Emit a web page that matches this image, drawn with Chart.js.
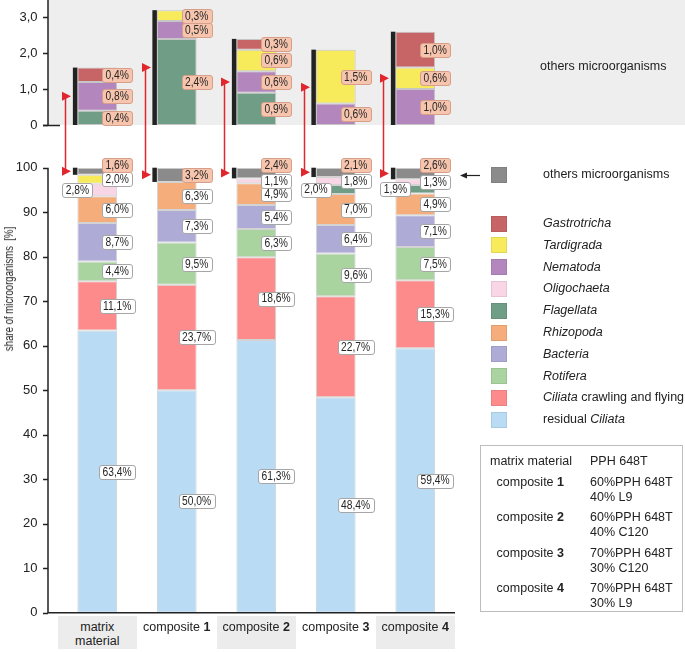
<!DOCTYPE html>
<html>
<head>
<meta charset="utf-8">
<script src="https://cdn.jsdelivr.net/npm/chart.js@4.4.1/dist/chart.umd.min.js"></script>
<style>
  body { margin: 0; background: #fff; font-family: 'Liberation Sans', Arial, sans-serif; color: #222; }
  #wrap { position: relative; width: 685px; height: 652px; overflow: hidden; }
  canvas { position: absolute; left: 0; top: 0; }
  .t { position: absolute; font-size: 12.5px; line-height: 15px; white-space: nowrap; }
  .cat { position: absolute; height: 33px; box-sizing: border-box; padding-top: 4px; text-align: center; font-size: 12.5px; line-height: 14px; }
  .cat.shade { background: #ececec; }
  .sq { position: absolute; width: 16px; height: 16px; box-sizing: border-box; border: 1px solid rgba(0,0,0,0.08); }
  #ytitle { position: absolute; left: 9px; top: 289px; font-size: 12px; white-space: nowrap;
            transform: translate(-50%, -50%) rotate(-90deg) scaleX(0.8); }
  #table { position: absolute; left: 480px; top: 445px; width: 203px; height: 167px; box-sizing: border-box; border: 1px solid #bdbdbd; }
</style>
</head>
<body>
<div id="wrap">
  <canvas id="lowerChart" width="685" height="652"></canvas>
  <canvas id="upperChart" width="685" height="652"></canvas>
  <div id="overlay"></div>
</div>
<script>
'use strict';

const categories = ['matrix material', 'composite 1', 'composite 2', 'composite 3', 'composite 4'];

// lower part: share of microorganisms [%], bottom to top
const residualCiliata = [63.4, 50.0, 61.3, 48.4, 59.4];
const ciliataCrawling = [11.1, 23.7, 18.6, 22.7, 15.3];
const rotifera = [4.4, 9.5, 6.3, 9.6, 7.5];
const bacteria = [8.7, 7.3, 5.4, 6.4, 7.1];
const rhizopoda = [6.0, 6.3, 4.9, 7.0, 4.9];
const flagellataMain = [0, 0, 0, 2.0, 1.9];
const oligochaeta = [2.8, 0, 1.1, 1.8, 1.3];
const tardigradaMain = [2.0, 0, 0, 0, 0];
const others = [1.6, 3.2, 2.4, 2.1, 2.6];

// upper part: what the "others" consist of
const flagellataOthers = [0.4, 2.4, 0.9, 0, 0];
const nematodaOthers = [0.8, 0.5, 0.6, 0.6, 1.0];
const tardigradaOthers = [0, 0.3, 0.6, 1.5, 0.6];
const gastrotrichaOthers = [0.4, 0, 0.3, 0, 1.0];

const lowerTicks = [0, 10, 20, 30, 40, 50, 60, 70, 80, 90, 100];
const upperTicks = [0, 1, 2, 3];
const upperTickLabels = ['0', '1,0', '2,0', '3,0'];

const materials = [
  ['PPH 648T'],
  ['60%PPH 648T', '40% L9'],
  ['60%PPH 648T', '40% C120'],
  ['70%PPH 648T', '30% C120'],
  ['70%PPH 648T', '30% L9']
];

const colors = {
  residual: '#b9dcf4',
  crawling: '#fe8b8b',
  rotifera: '#a9d4a0',
  bacteria: '#aeabd7',
  rhizopoda: '#f5ad7b',
  flagellata: '#6f9d86',
  oligochaeta: '#f9d6e5',
  nematoda: '#b387be',
  tardigrada: '#f8eb5b',
  gastrotricha: '#c76566',
  others: '#8b8b8b'
};

const FONT = "'Liberation Sans', Arial, sans-serif";
const axisGap = 9.5;   // y axis line sits left of the first category band
const stripW = 4.5;    // black marker left of the "others" bars

function bar(label, data, color) {
  return {
    label: label,
    data: data.map(v => v || null),
    backgroundColor: color,
    borderColor: 'rgba(80,80,80,0.25)',
    borderWidth: 1,
    borderSkipped: false,
    barPercentage: 0.5,
    categoryPercentage: 1
  };
}

function fmt(v) {
  return v.toFixed(1).replace('.', ',') + '%';
}

function fitAxis(s) {
  s.width = 57.5;
  s.paddingTop = 0;
  s.paddingBottom = 0;
}

function drawLabel(ctx, text, cx, cy, pink) {
  ctx.save();
  ctx.font = '12.5px ' + FONT;
  const tw = ctx.measureText(text).width * 0.82;
  const w = Math.round(tw + 7), h = 14;
  const x = Math.round(cx - w / 2) + 0.5, y = Math.round(cy - h / 2) + 0.5;
  ctx.beginPath();
  ctx.roundRect(x, y, w, h, 2.5);
  ctx.fillStyle = pink ? '#f7c5ae' : '#ffffff';
  ctx.fill();
  ctx.lineWidth = 1;
  ctx.strokeStyle = pink ? '#d59f8a' : '#a6a6a6';
  ctx.stroke();
  ctx.translate(cx, cy + 0.5);
  ctx.scale(0.82, 1);
  ctx.fillStyle = '#262626';
  ctx.textAlign = 'center';
  ctx.textBaseline = 'middle';
  ctx.fillText(text, 0, 0);
  ctx.restore();
}

function drawYAxis(chart, yFrom, yTo) {
  const ctx = chart.ctx;
  const ax = chart.chartArea.left - axisGap;
  const ys = chart.scales.y;
  ctx.save();
  ctx.strokeStyle = '#222';
  ctx.lineWidth = 1.5;
  ctx.beginPath();
  ctx.moveTo(ax, yFrom);
  ctx.lineTo(ax, yTo);
  ys.ticks.forEach(t => {
    const py = Math.round(ys.getPixelForValue(t.value)) + 0.5;
    ctx.moveTo(ax - 5, py);
    ctx.lineTo(ax, py);
  });
  ctx.stroke();
  ctx.restore();
  return ax;
}

// ---------- lower chart ----------
const lowerPlugin = {
  id: 'lowerDeco',
  afterDatasetsDraw(chart) {
    const ctx = chart.ctx;
    const sets = chart.data.datasets;
    const last = sets.length - 1;
    // black marker left of the "others" segment
    chart.getDatasetMeta(last).data.forEach(el => {
      ctx.fillStyle = '#222';
      ctx.fillRect(el.x - el.width / 2 - stripW, el.y, stripW, el.base - el.y);
    });
    chart.data.labels.forEach((_, i) => {
      sets.forEach((ds, d) => {
        const v = ds.data[i];
        if (!v) return;
        const el = chart.getDatasetMeta(d).data[i];
        const isOthers = d === last;
        let cx = el.x + el.width / 2;
        let cy = (el.y + el.base) / 2;
        if (isOthers && el.base - el.y < 12) cy = el.y - 3;
        if (!isOthers && v < 3) {
          for (let k = d + 1; k < last; k++) {
            const u = sets[k].data[i];
            if (u) { if (u < 3) cx = el.x - el.width / 2; break; }
          }
        }
        drawLabel(ctx, fmt(v), cx, cy, isOthers);
      });
    });
  },
  afterDraw(chart) {
    const ys = chart.scales.y;
    const y0 = ys.getPixelForValue(0);
    const ax = drawYAxis(chart, ys.getPixelForValue(100), y0);
    const ctx = chart.ctx;
    ctx.save();
    ctx.strokeStyle = '#222';
    ctx.lineWidth = 1.5;
    ctx.beginPath();
    ctx.moveTo(ax, y0);
    ctx.lineTo(chart.chartArea.right, y0);
    ctx.stroke();
    ctx.restore();
  }
};

const lowerChart = new Chart(document.getElementById('lowerChart'), {
  type: 'bar',
  data: {
    labels: categories,
    datasets: [
      bar('residual Ciliata', residualCiliata, colors.residual),
      bar('Ciliata crawling and flying', ciliataCrawling, colors.crawling),
      bar('Rotifera', rotifera, colors.rotifera),
      bar('Bacteria', bacteria, colors.bacteria),
      bar('Rhizopoda', rhizopoda, colors.rhizopoda),
      bar('Flagellata', flagellataMain, colors.flagellata),
      bar('Oligochaeta', oligochaeta, colors.oligochaeta),
      bar('Tardigrada', tardigradaMain, colors.tardigrada),
      bar('others microorganisms', others, colors.others)
    ]
  },
  options: {
    responsive: false,
    animation: false,
    layout: { padding: { top: 167.7, bottom: 39.3, left: 0, right: 230 } },
    plugins: { legend: { display: false }, tooltip: { enabled: false } },
    scales: {
      x: { display: false, stacked: true },
      y: {
        stacked: true, min: 0, max: 100,
        afterFit: fitAxis,
        afterBuildTicks: s => { s.ticks = lowerTicks.map(v => ({ value: v })); },
        grid: { display: false, drawTicks: false },
        border: { display: false },
        ticks: { padding: 20, color: '#222', font: { family: FONT, size: 13 }, callback: v => String(v) }
      }
    }
  },
  plugins: [lowerPlugin]
});

// ---------- upper chart ----------
const upperPlugin = {
  id: 'upperDeco',
  beforeDraw(chart) {
    const ctx = chart.ctx;
    const ax = chart.chartArea.left - axisGap;
    const y0 = chart.scales.y.getPixelForValue(0);
    ctx.save();
    ctx.fillStyle = '#eeeeee';
    ctx.fillRect(ax, 0, chart.width - ax, y0);
    ctx.restore();
  },
  afterDatasetsDraw(chart) {
    const ctx = chart.ctx;
    const sets = chart.data.datasets;
    chart.data.labels.forEach((_, i) => {
      let top = Infinity, base = 0, left = 0;
      sets.forEach((ds, d) => {
        if (!ds.data[i]) return;
        const el = chart.getDatasetMeta(d).data[i];
        top = Math.min(top, el.y);
        base = Math.max(base, el.base);
        left = el.x - el.width / 2;
      });
      ctx.fillStyle = '#222';
      ctx.fillRect(left - stripW, top, stripW, base - top);
    });
    chart.data.labels.forEach((_, i) => {
      sets.forEach((ds, d) => {
        const v = ds.data[i];
        if (!v) return;
        const el = chart.getDatasetMeta(d).data[i];
        drawLabel(ctx, fmt(v), el.x + el.width / 2, (el.y + el.base) / 2, true);
      });
    });
  },
  afterDraw(chart) {
    const ctx = chart.ctx;
    const ys = chart.scales.y;
    const y0 = ys.getPixelForValue(0);
    const ax = drawYAxis(chart, 0, y0);
    ctx.save();
    ctx.strokeStyle = '#222';
    ctx.lineWidth = 1.5;
    ctx.beginPath();
    ctx.moveTo(ax - 5, Math.round(y0) + 0.5);
    ctx.lineTo(ax + 12, Math.round(y0) + 0.5);
    ctx.stroke();

    // red connectors between "others" segment and its breakdown
    const lowerMeta = lowerChart.getDatasetMeta(lowerChart.data.datasets.length - 1);
    ctx.strokeStyle = '#e1262d';
    ctx.fillStyle = '#e1262d';
    ctx.lineWidth = 1.5;
    lowerMeta.data.forEach((el, i) => {
      const total = chart.data.datasets.reduce((s, ds) => s + (ds.data[i] || 0), 0);
      const x = Math.round(el.x - el.width / 2 - stripW - 7.5) + 0.5;
      const yTop = ys.getPixelForValue(total / 2);
      const yBot = (el.y + el.base) / 2;
      ctx.beginPath();
      ctx.moveTo(x, yTop);
      ctx.lineTo(x, yBot);
      ctx.stroke();
      [yTop, yBot].forEach(y => {
        ctx.beginPath();
        ctx.moveTo(x - 3.5, y - 4.5);
        ctx.lineTo(x + 5.5, y);
        ctx.lineTo(x - 3.5, y + 4.5);
        ctx.closePath();
        ctx.fill();
      });
    });

    // small pointer next to the "others" legend entry
    ctx.strokeStyle = '#222';
    ctx.fillStyle = '#222';
    ctx.lineWidth = 1.2;
    ctx.beginPath();
    ctx.moveTo(480, 175.5);
    ctx.lineTo(465, 175.5);
    ctx.stroke();
    ctx.beginPath();
    ctx.moveTo(460, 175.5);
    ctx.lineTo(467, 172.5);
    ctx.lineTo(467, 178.5);
    ctx.closePath();
    ctx.fill();
    ctx.restore();
  }
};

new Chart(document.getElementById('upperChart'), {
  type: 'bar',
  data: {
    labels: categories,
    datasets: [
      bar('Flagellata', flagellataOthers, colors.flagellata),
      bar('Nematoda', nematodaOthers, colors.nematoda),
      bar('Tardigrada', tardigradaOthers, colors.tardigrada),
      bar('Gastrotricha', gastrotrichaOthers, colors.gastrotricha)
    ]
  },
  options: {
    responsive: false,
    animation: false,
    layout: { padding: { top: 3, bottom: 527, left: 0, right: 230 } },
    plugins: { legend: { display: false }, tooltip: { enabled: false } },
    scales: {
      x: { display: false, stacked: true },
      y: {
        stacked: true, min: 0, max: 3.4,
        afterFit: fitAxis,
        afterBuildTicks: s => { s.ticks = upperTicks.map(v => ({ value: v })); },
        grid: { display: false, drawTicks: false },
        border: { display: false },
        ticks: {
          padding: 20, color: '#222', font: { family: FONT, size: 13 },
          callback: v => upperTickLabels[upperTicks.indexOf(v)]
        }
      }
    }
  },
  plugins: [upperPlugin]
});

// ---------- html text: categories, legend, table ----------
const overlay = document.getElementById('overlay');
function add(cls, html, css) {
  const d = document.createElement('div');
  d.className = cls;
  d.innerHTML = html;
  Object.assign(d.style, css);
  overlay.appendChild(d);
  return d;
}
function catHtml(name) {
  if (name.startsWith('composite ')) return 'composite <b>' + name.slice(10) + '</b>';
  return name.replace(' ', '<br>');
}

const xs = lowerChart.scales.x;
const band = (xs.right - xs.left) / categories.length;
const yBase = lowerChart.scales.y.getPixelForValue(0);
categories.forEach((c, i) => {
  add('cat' + (i % 2 === 0 ? ' shade' : ''), catHtml(c), {
    left: (xs.getPixelForValue(i) - band / 2) + 'px',
    top: (yBase + 3) + 'px',
    width: band + 'px'
  });
});

add('', 'share of microorganisms&nbsp;&nbsp;[%]', {}).id = 'ytitle';

add('t', 'others microorganisms', { left: '540px', top: '59px' });
add('sq', '', { left: '491px', top: '167px', background: colors.others });
add('t', 'others microorganisms', { left: '543px', top: '167px' });

const legendItems = [
  ['<i>Gastrotricha</i>', colors.gastrotricha],
  ['<i>Tardigrada</i>', colors.tardigrada],
  ['<i>Nematoda</i>', colors.nematoda],
  ['<i>Oligochaeta</i>', colors.oligochaeta],
  ['<i>Flagellata</i>', colors.flagellata],
  ['<i>Rhizopoda</i>', colors.rhizopoda],
  ['<i>Bacteria</i>', colors.bacteria],
  ['<i>Rotifera</i>', colors.rotifera],
  ['<i>Ciliata</i> crawling and flying', colors.crawling],
  ['residual <i>Ciliata</i>', colors.residual]
];
legendItems.forEach((it, k) => {
  const cy = 223.5 + k * 21.8;
  add('sq', '', { left: '491px', top: (cy - 8) + 'px', background: it[1] });
  add('t', it[0], { left: '543px', top: (cy - 7.5) + 'px' });
});

add('', '', {}).id = 'table';
const rowY = [461, 482, 517, 553, 588];
categories.forEach((c, i) => {
  if (i === 0) {
    add('t', c, { left: '490px', top: (rowY[i] - 7.5) + 'px' });
  } else {
    add('t', catHtml(c), { right: (685 - 564) + 'px', top: (rowY[i] - 7.5) + 'px' });
  }
  add('t', materials[i].join('<br>'), { left: '590px', top: (rowY[i] - 7.5) + 'px' });
});
</script>
</body>
</html>
